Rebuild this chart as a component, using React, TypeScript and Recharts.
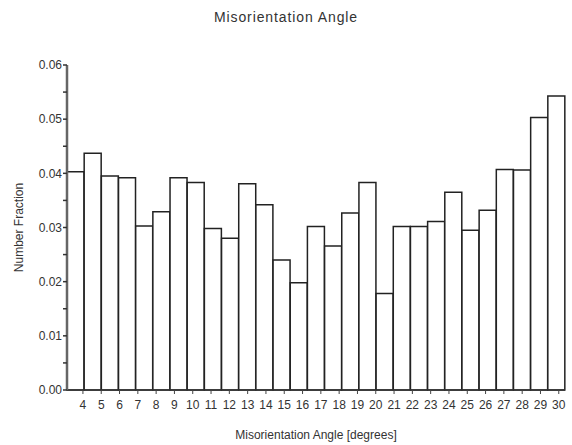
import { BarChart, Bar, XAxis, YAxis, Label } from 'recharts';

const bins = [3, 4, 5, 6, 7, 8, 9, 10, 11, 12, 13, 14, 15, 16, 17, 18, 19, 20, 21, 22, 23, 24, 25, 26, 27, 28, 29, 30, 31];
const fractions = [
  0.0403, 0.0437, 0.0395, 0.0392, 0.0303, 0.0329, 0.0392, 0.0383, 0.0298, 0.028,
  0.0381, 0.0342, 0.024, 0.0198, 0.0302, 0.0266, 0.0327, 0.0383, 0.0178, 0.0302,
  0.0302, 0.0311, 0.0365, 0.0295, 0.0332, 0.0407, 0.0406, 0.0503, 0.0543,
];
const angleTicks = [4, 5, 6, 7, 8, 9, 10, 11, 12, 13, 14, 15, 16, 17, 18, 19, 20, 21, 22, 23, 24, 25, 26, 27, 28, 29, 30];
const yTicks = [0, 0.005, 0.01, 0.015, 0.02, 0.025, 0.03, 0.035, 0.04, 0.045, 0.05, 0.055, 0.06];

const data = bins.map((b, i) => ({ bin: b, value: fractions[i] }));

const font = 'Liberation Sans, Arial, sans-serif';
const textColor = '#333';

export default function App() {
  return (
    <div style={{ position: 'absolute', left: 0, top: 0, width: 572, height: 445, background: '#fff', fontFamily: font }}>
      <div
        style={{
          position: 'absolute',
          top: 9,
          left: 0,
          width: 572,
          textAlign: 'center',
          fontSize: 14,
          letterSpacing: 0.9,
          color: textColor,
        }}
      >
        Misorientation Angle
      </div>
      <BarChart
        width={572}
        height={445}
        data={data}
        margin={{ top: 65, right: 7, bottom: 0, left: 0 }}
        barCategoryGap={0}
        barGap={0}
      >
        <XAxis xAxisId="bins" dataKey="bin" hide height={0} />
        <XAxis
          xAxisId="deg"
          dataKey="bin"
          type="number"
          domain={[3.13, 30.34]}
          ticks={angleTicks}
          allowDataOverflow
          interval={0}
          height={55}
          tickSize={4}
          tickMargin={6}
          tick={{ fontSize: 12, fill: textColor, fontFamily: font }}
          axisLine={{ stroke: '#333', strokeWidth: 1.5 }}
          tickLine={{ stroke: '#444' }}
        >
          <Label
            content={({ viewBox }: any) => (
              <text
                x={viewBox.x + viewBox.width / 2}
                y={viewBox.y + 49}
                textAnchor="middle"
                fontSize={12}
                fill={textColor}
                fontFamily={font}
              >
                Misorientation Angle [degrees]
              </text>
            )}
          />
        </XAxis>
        <YAxis
          width={67}
          domain={[0, 0.06]}
          ticks={yTicks}
          interval={0}
          tickSize={4}
          tickMargin={1}
          tickFormatter={(v: number) => (Math.round(v * 1000) % 10 === 0 ? v.toFixed(2) : '')}
          tick={{ fontSize: 12, fill: textColor, fontFamily: font }}
          axisLine={{ stroke: '#666', strokeWidth: 2.5 }}
          tickLine={{ stroke: '#333', strokeWidth: 1.5 }}
        >
          <Label
            content={({ viewBox }: any) => {
              const cx = 19;
              const cy = viewBox.y + viewBox.height / 2;
              return (
                <text
                  x={cx}
                  y={cy}
                  transform={`rotate(-90 ${cx} ${cy})`}
                  textAnchor="middle"
                  dominantBaseline="central"
                  fontSize={12}
                  fill={textColor}
                  fontFamily={font}
                >
                  Number Fraction
                </text>
              );
            }}
          />
        </YAxis>
        <Bar
          xAxisId="bins"
          dataKey="value"
          fill="#fff"
          stroke="#222"
          strokeWidth={1.5}
          isAnimationActive={false}
        />
      </BarChart>
    </div>
  );
}
